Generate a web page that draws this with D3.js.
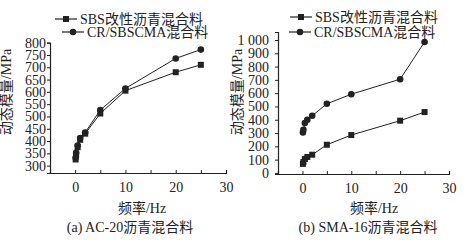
<!DOCTYPE html>
<html>
<head>
<meta charset="utf-8">
<script src="https://cdn.jsdelivr.net/npm/d3@7"></script>
<style>
  body { margin: 0; background: #fff; }
  svg text { font-family: "Liberation Serif", "Noto Sans CJK SC", serif; fill: #222; }
</style>
</head>
<body>
<svg id="chart" width="465" height="240"></svg>
<script>
// ── Data ──
const freq = [0.1, 0.2, 0.5, 1, 2, 5, 10, 20, 25];

// (a) AC-20
const acSBS = [325, 345, 375, 405, 430, 512, 605, 680, 710];
const acCR = [332, 352, 382, 412, 435, 526, 614, 736, 772];
const acTicks = [300, 350, 400, 450, 500, 550, 600, 650, 700, 750, 800];

// (b) SMA-16
const smaSBS = [68, 82, 105, 120, 137, 212, 285, 393, 458];
const smaCR = [305, 325, 375, 400, 430, 520, 592, 705, 985];
const smaTicks = [0, 100, 200, 300, 400, 500, 600, 700, 800, 900, 1000];

const xTicks = [0, 10, 20, 30];
const legendNames = ["SBS改性沥青混合料", "CR/SBSCMA混合料"];
const C = { ink: "#222" };

const svg = d3.select("#chart");

function panel(opt) {
  const x = d3.scaleLinear().domain([-5, 30]).range(opt.xr);
  const y = d3.scaleLinear().domain(opt.yd).range(opt.yr);
  const g = svg.append("g");

  // x axis (ticks pointing inward)
  const xG = g.append("g")
    .attr("transform", `translate(0,${opt.yr[0]})`)
    .call(d3.axisBottom(x).tickValues(d3.range(-5, 31, 5)).tickSize(-3).tickFormat(""));
  const xL = g.append("g")
    .attr("transform", `translate(0,${opt.yr[0]})`)
    .call(d3.axisBottom(x).tickValues(xTicks).tickSize(0).tickPadding(9));
  xL.select(".domain").remove();
  xL.selectAll("text").attr("font-size", "14px");

  // y axis
  const yG = g.append("g")
    .attr("transform", `translate(${opt.xr[0]},0)`)
    .call(d3.axisLeft(y).tickValues(opt.ticks).tickSize(3).tickPadding(opt.pad)
      .tickFormat(d => d >= 1000 ? String(d).replace(/(\d)(\d{3})$/, "$1 $2") : d));
  yG.selectAll("text").attr("font-size", "14px");

  [xG, yG].forEach(a => {
    a.select(".domain").attr("stroke", C.ink).attr("stroke-width", 1.2);
    a.selectAll("line").attr("stroke", C.ink);
  });

  const line = d3.line().x((d, i) => x(freq[i])).y(d => y(d));

  // series
  [opt.sbs, opt.cr].forEach((vals, k) => {
    g.append("path").datum(vals)
      .attr("d", line)
      .attr("fill", "none")
      .attr("stroke", C.ink)
      .attr("stroke-width", 1);
    vals.forEach((v, i) => {
      if (k === 0) {
        g.append("rect")
          .attr("x", x(freq[i]) - 3).attr("y", y(v) - 3)
          .attr("width", 6).attr("height", 6)
          .attr("fill", C.ink);
      } else {
        g.append("circle")
          .attr("cx", x(freq[i])).attr("cy", y(v)).attr("r", 3.3)
          .attr("fill", C.ink);
      }
    });
  });

  // legend
  opt.legend.forEach((p, k) => {
    g.append("line")
      .attr("x1", p[0]).attr("x2", p[0] + 22)
      .attr("y1", p[1]).attr("y2", p[1])
      .attr("stroke", C.ink).attr("stroke-width", 1.2);
    if (k === 0) {
      g.append("rect").attr("x", p[0] + 8).attr("y", p[1] - 3)
        .attr("width", 6).attr("height", 6).attr("fill", C.ink);
    } else {
      g.append("circle").attr("cx", p[0] + 11).attr("cy", p[1]).attr("r", 3.3)
        .attr("fill", C.ink);
    }
    g.append("text")
      .attr("x", p[0] + 25).attr("y", p[1] + 5)
      .attr("font-size", "14px")
      .text(legendNames[k]);
  });

  // axis titles & caption
  g.append("text")
    .attr("transform", `translate(${opt.ylx},${opt.yly}) rotate(-90)`)
    .attr("text-anchor", "middle")
    .attr("font-size", "14px")
    .text("动态模量/MPa");

  g.append("text")
    .attr("x", opt.xlx).attr("y", 213)
    .attr("text-anchor", "middle")
    .attr("font-size", "14px")
    .text("频率/Hz");

  g.append("text")
    .attr("x", opt.capx).attr("y", 232)
    .attr("text-anchor", "middle")
    .attr("font-size", "14px")
    .text(opt.caption);
}

panel({
  xr: [50, 226], yd: [270, 800], yr: [173, 42.7],
  ticks: acTicks, pad: 1,
  sbs: acSBS, cr: acCR,
  legend: [[55, 19], [62, 32]],
  ylx: 11, yly: 92, xlx: 142, capx: 130,
  caption: "(a) AC-20沥青混合料"
});

panel({
  xr: [278, 449], yd: [-8, 1060], yr: [174, 32],
  ticks: smaTicks, pad: 6,
  sbs: smaSBS, cr: smaCR,
  legend: [[290, 17], [289, 32]],
  ylx: 242, yly: 92, xlx: 374, capx: 368,
  caption: "(b) SMA-16沥青混合料"
});
</script>
</body>
</html>
